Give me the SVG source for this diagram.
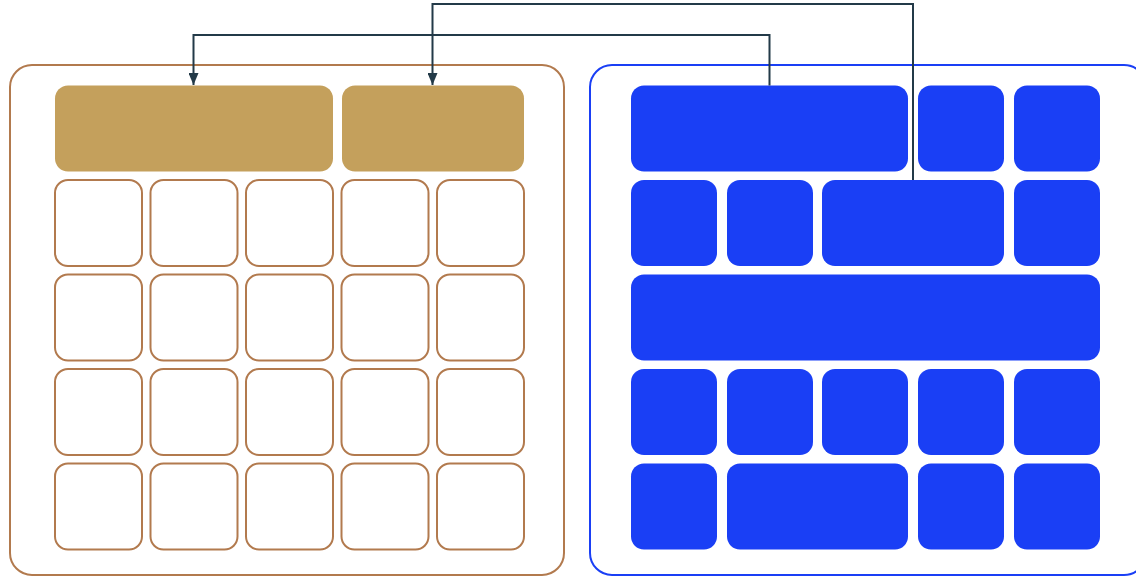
<svg xmlns="http://www.w3.org/2000/svg" width="1136" height="577" viewBox="0 0 1136 577">
<style>
.cont{fill:#fff;stroke-width:2}
.lc{stroke:#b27a4e}
.rc{stroke:#1a3ff5}
.cell{fill:#fff;stroke:#b27a4e;stroke-width:2}
.gold{fill:#c4a05c}
.blue{fill:#1a3ff5}
.conn{fill:none;stroke:#233a48;stroke-width:2}
</style>
<defs>
<marker id="arr" viewBox="0 0 12 10" refX="12" refY="5" markerWidth="12" markerHeight="10" markerUnits="userSpaceOnUse" orient="auto">
<path d="M0,0 L12,5 L0,10 Z" fill="#233a48"/>
</marker>
</defs>
<g id="left-group">
<rect class="cont lc" x="10" y="65" width="554" height="510" rx="22"/>
<rect id="g1" class="gold" x="55" y="85.5" width="278" height="86" rx="13"/>
<rect id="g2" class="gold" x="342" y="85.5" width="182" height="86" rx="13"/>
<g id="lcells">
<rect class="cell" x="55" y="180" width="87" height="86" rx="13"/>
<rect class="cell" x="150.5" y="180" width="87" height="86" rx="13"/>
<rect class="cell" x="246" y="180" width="87" height="86" rx="13"/>
<rect class="cell" x="341.5" y="180" width="87" height="86" rx="13"/>
<rect class="cell" x="437" y="180" width="87" height="86" rx="13"/>
<rect class="cell" x="55" y="274.5" width="87" height="86" rx="13"/>
<rect class="cell" x="150.5" y="274.5" width="87" height="86" rx="13"/>
<rect class="cell" x="246" y="274.5" width="87" height="86" rx="13"/>
<rect class="cell" x="341.5" y="274.5" width="87" height="86" rx="13"/>
<rect class="cell" x="437" y="274.5" width="87" height="86" rx="13"/>
<rect class="cell" x="55" y="369" width="87" height="86" rx="13"/>
<rect class="cell" x="150.5" y="369" width="87" height="86" rx="13"/>
<rect class="cell" x="246" y="369" width="87" height="86" rx="13"/>
<rect class="cell" x="341.5" y="369" width="87" height="86" rx="13"/>
<rect class="cell" x="437" y="369" width="87" height="86" rx="13"/>
<rect class="cell" x="55" y="463.5" width="87" height="86" rx="13"/>
<rect class="cell" x="150.5" y="463.5" width="87" height="86" rx="13"/>
<rect class="cell" x="246" y="463.5" width="87" height="86" rx="13"/>
<rect class="cell" x="341.5" y="463.5" width="87" height="86" rx="13"/>
<rect class="cell" x="437" y="463.5" width="87" height="86" rx="13"/>
</g>
</g>
<g id="right-group">
<rect class="cont rc" x="590" y="65" width="556" height="510" rx="22"/>
<rect id="b1" class="blue" x="631" y="85.5" width="277" height="86" rx="13"/>
<rect class="blue" x="918" y="85.5" width="86" height="86" rx="13"/>
<rect class="blue" x="1014" y="85.5" width="86" height="86" rx="13"/>
<rect class="blue" x="631" y="180" width="86" height="86" rx="13"/>
<rect class="blue" x="727" y="180" width="86" height="86" rx="13"/>
<rect id="b2" class="blue" x="822" y="180" width="182" height="86" rx="13"/>
<rect class="blue" x="1014" y="180" width="86" height="86" rx="13"/>
<rect class="blue" x="631" y="274.5" width="469" height="86" rx="13"/>
<rect class="blue" x="631" y="369" width="86" height="86" rx="13"/>
<rect class="blue" x="727" y="369" width="86" height="86" rx="13"/>
<rect class="blue" x="822" y="369" width="86" height="86" rx="13"/>
<rect class="blue" x="918" y="369" width="86" height="86" rx="13"/>
<rect class="blue" x="1014" y="369" width="86" height="86" rx="13"/>
<rect class="blue" x="631" y="463.5" width="86" height="86" rx="13"/>
<rect class="blue" x="727" y="463.5" width="181" height="86" rx="13"/>
<rect class="blue" x="918" y="463.5" width="86" height="86" rx="13"/>
<rect class="blue" x="1014" y="463.5" width="86" height="86" rx="13"/>
</g>
<g id="connectors">
<path class="conn" d="M769.5,85.5 V35 H193.5 V85" marker-end="url(#arr)"/>
<path class="conn" d="M913,180 V4 H432.5 V85" marker-end="url(#arr)"/>
</g>
</svg>
